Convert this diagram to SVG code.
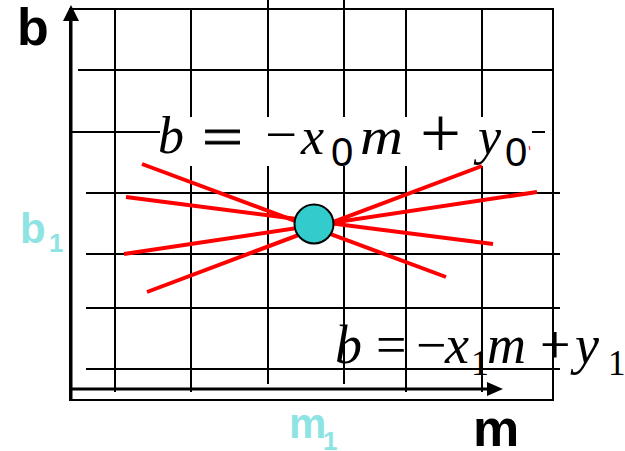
<svg xmlns="http://www.w3.org/2000/svg" width="625" height="451" viewBox="0 0 625 451">
<style>
.g{stroke:#000;stroke-width:2;fill:none}
.red{stroke:#FF0000;stroke-width:4;stroke-linecap:butt}
.lbl{font-family:"Liberation Sans",Arial,sans-serif;font-weight:bold}
.cy{fill:#8EE3E3}
.it{font-family:"Liberation Serif","Times New Roman",serif;font-style:italic}
.rm{font-family:"Liberation Serif","Times New Roman",serif}
.sf{font-family:"Liberation Sans",Arial,sans-serif}
</style>
<rect width="625" height="451" fill="#fff"/>
<g id="grid">
<rect x="70" y="9" width="483" height="391" class="g" stroke-width="2.5"/>
<line class="g" x1="115" y1="9" x2="115" y2="392"/>
<line class="g" x1="191" y1="9" x2="191" y2="392"/>
<line class="g" x1="268" y1="0" x2="268" y2="384"/>
<line class="g" x1="344" y1="0" x2="344" y2="384"/>
<line class="g" x1="406" y1="9" x2="406" y2="392"/>
<line class="g" x1="482" y1="9" x2="482" y2="392"/>
<line class="g" x1="78" y1="70" x2="553" y2="70"/>
<line class="g" x1="70" y1="132" x2="162" y2="132"/>
<line class="g" x1="86" y1="193" x2="560" y2="193"/>
<line class="g" x1="86" y1="254" x2="560" y2="254"/>
<line class="g" x1="86" y1="308" x2="560" y2="308"/>
<line class="g" x1="86" y1="369" x2="560" y2="369"/>
</g>
<g id="axes">
<line x1="71" y1="400" x2="71" y2="19" stroke="#000" stroke-width="3"/>
<polygon points="71,5 63,21 79,21" fill="#000"/>
<line x1="70" y1="389" x2="489" y2="389" stroke="#000" stroke-width="3"/>
<polygon points="503,389 487,382 487,396" fill="#000"/>
</g>
<g id="eq0">
<rect x="160" y="117" width="391" height="49" fill="#fff"/>
<text class="it" x="158" y="153" font-size="52">b</text>
<text class="rm" x="202" y="156" font-size="56" stroke="#000" stroke-width="0.8" textLength="41" lengthAdjust="spacingAndGlyphs">=</text>
<text class="rm" x="265" y="152" font-size="52" textLength="32" lengthAdjust="spacingAndGlyphs">−</text>
<text class="it" x="301" y="154" font-size="52">x</text>
<text class="sf" x="331" y="166" font-size="40">0</text>
<text class="it" x="360" y="154" font-size="52" textLength="43" lengthAdjust="spacingAndGlyphs">m</text>
<text class="rm" x="420" y="157" font-size="72" textLength="41" lengthAdjust="spacingAndGlyphs">+</text>
<text class="it" x="478" y="154" font-size="52">y</text>
<text class="sf" x="505" y="166" font-size="40">0</text>
<line x1="532" y1="132" x2="545" y2="132" stroke="#000" stroke-width="2"/>
<line x1="529" y1="146" x2="530" y2="150" stroke="#FF0000" stroke-width="1"/>
</g>
<g id="connectors">
<line class="red" x1="142" y1="164" x2="446" y2="277"/>
<line class="red" x1="126" y1="197" x2="493" y2="244"/>
<line class="red" x1="124" y1="254" x2="537" y2="192"/>
<line class="red" x1="147" y1="292" x2="482" y2="166"/>
</g>
<g id="point">
<circle cx="314" cy="224" r="19.5" fill="#33CCCC" stroke="#000" stroke-width="2"/>
</g>
<g id="eq1">
<text class="it" x="335" y="363" font-size="54">b</text>
<text class="rm" x="376" y="363" font-size="54">=</text>
<text class="rm" x="416" y="363" font-size="54">−</text>
<text class="it" x="445" y="363" font-size="54">x</text>
<text class="rm" x="471" y="375" font-size="36">1</text>
<text class="it" x="487" y="363" font-size="54">m</text>
<text class="rm" x="540" y="363" font-size="54">+</text>
<text class="it" x="575" y="363" font-size="54">y</text>
<text class="rm" x="608" y="375" font-size="35">1</text>
</g>
<g id="labels">
<text class="lbl" x="17" y="45" font-size="52">b</text>
<text class="lbl" x="473" y="446" font-size="52">m</text>
<text class="lbl cy" x="20" y="243" font-size="42">b</text>
<text class="lbl cy" x="49" y="252" font-size="26">1</text>
<text class="lbl cy" x="289" y="438" font-size="42">m</text>
<text class="lbl cy" x="323" y="450" font-size="26">1</text>
</g>
</svg>
